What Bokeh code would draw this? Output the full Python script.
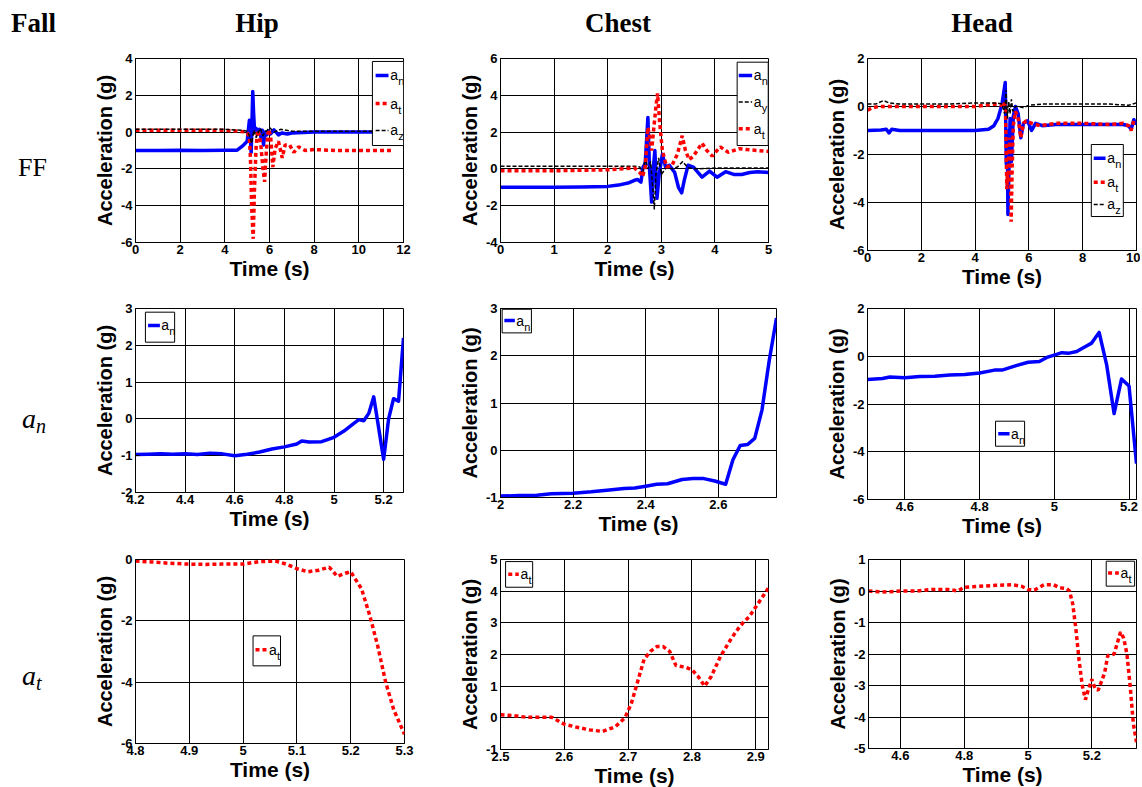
from bokeh.plotting import figure
from bokeh.layouts import row, column
from bokeh.models import Div, FixedTicker, CustomJSTickFormatter
from bokeh.core.properties import value
from bokeh.embed import file_html
from bokeh.resources import INLINE

# ---------------- data ----------------
# Row FF, Hip
hip_ff_an_t = [0, 1, 2, 3, 4, 4.55, 4.8, 5.0, 5.1, 5.18, 5.25, 5.29, 5.33, 5.4, 5.47, 5.55, 5.62, 5.68, 5.73, 5.8, 5.88, 5.95, 6.05, 6.2, 6.4, 6.55, 6.8, 7.0, 8, 9, 10, 11, 11.6]
hip_ff_an_v = [-1.0, -1.0, -0.98, -1.0, -0.98, -0.98, -0.75, -0.5, 0.65, -1.1, 2.2, 1.0, 0.1, 0.2, 0.05, 0.15, -0.3, 0.1, -0.7, 0.0, -0.15, 0.05, -0.1, 0.12, -0.15, -0.05, -0.1, -0.05, 0.0, 0.0, 0.0, 0.0, 0.0]
hip_ff_at_t = [0, 2, 4, 4.6, 5.0, 5.1, 5.15, 5.2, 5.27, 5.33, 5.4, 5.47, 5.55, 5.62, 5.7, 5.78, 5.86, 5.95, 6.05, 6.15, 6.25, 6.4, 6.57, 6.7, 6.9, 7.09, 7.3, 7.6, 8, 9, 10, 11, 11.55]
hip_ff_at_v = [0.1, 0.1, 0.1, 0.05, 0.0, -0.3, -1.5, -4.0, -5.8, -3.0, -0.8, 0.1, -0.2, -0.8, -1.9, -2.7, -1.0, 0.15, -0.2, -1.9, -0.9, -0.5, -1.4, -0.7, -0.7, -1.1, -0.8, -1.0, -0.95, -1.0, -1.0, -1.0, -1.0]
hip_ff_az_t = [0, 2, 4, 4.8, 5.0, 5.1, 5.2, 5.3, 5.4, 5.5, 5.6, 5.7, 5.8, 5.9, 6.0, 6.2, 6.5, 7, 8, 9, 10, 11, 11.6]
hip_ff_az_v = [0.15, 0.15, 0.15, 0.1, 0.05, -0.2, -0.6, 0.1, -0.3, 0.0, 0.2, -0.2, 0.0, 0.1, 0.25, 0.0, 0.15, 0.05, 0.05, 0.05, 0.05, 0.05, 0.05]

# Row FF, Chest
chest_ff_an_t = [0, 0.5, 1, 1.5, 2.0, 2.2, 2.4, 2.5, 2.56, 2.62, 2.66, 2.7, 2.75, 2.78, 2.82, 2.85, 2.88, 2.92, 2.96, 3.02, 3.08, 3.15, 3.25, 3.32, 3.38, 3.43, 3.5, 3.6, 3.76, 3.9, 4.04, 4.2, 4.35, 4.5, 4.65, 4.8, 5.0]
chest_ff_an_v = [-1.0, -1.0, -1.0, -0.98, -0.95, -0.88, -0.75, -0.62, -0.58, -0.72, 0.1, 0.3, 2.8, 0.0, -1.8, 0.0, 1.0, -1.6, -0.3, 0.8, 0.1, 0.2, -0.2, -1.0, -1.3, -0.6, 0.2, 0.1, -0.45, -0.12, -0.45, -0.15, -0.3, -0.3, -0.2, -0.15, -0.2]
chest_ff_ay_t = [0, 1, 2, 2.5, 2.6, 2.65, 2.7, 2.75, 2.8, 2.84, 2.87, 2.9, 2.95, 3.0, 3.1, 3.2, 3.3, 3.4, 3.5, 3.7, 4, 4.5, 5]
chest_ff_ay_v = [0.15, 0.15, 0.15, 0.15, 0.1, -0.3, 0.6, 0.0, 0.4, -1.0, -2.2, -0.3, 0.6, -0.3, 0.1, 0.0, 0.1, 0.4, 0.05, 0.0, 0.05, 0.05, 0.05]
chest_ff_at_t = [0, 1, 2, 2.5, 2.6, 2.65, 2.7, 2.75, 2.79, 2.82, 2.86, 2.9, 2.93, 2.97, 3.02, 3.1, 3.2, 3.3, 3.39, 3.45, 3.52, 3.6, 3.76, 3.85, 3.95, 4.1, 4.25, 4.45, 4.6, 4.8, 5.0]
chest_ff_at_v = [-0.1, -0.1, -0.05, 0.05, -0.2, -0.42, 0.1, 2.25, 1.6, 1.0, 2.2, 3.4, 4.1, 2.5, 1.0, 0.1, 0.2, 0.8, 1.8, 1.0, 0.5, 0.7, 1.4, 1.0, 0.7, 1.2, 0.9, 1.1, 1.05, 1.0, 0.95]

# Row FF, Head
head_ff_an_t = [0, 0.5, 0.7, 0.8, 0.9, 1.2, 2, 3, 4, 4.5, 4.7, 4.85, 5.0, 5.12, 5.16, 5.18, 5.2, 5.22, 5.26, 5.3, 5.35, 5.42, 5.5, 5.6, 5.7, 5.8, 5.95, 6.1, 6.25, 6.5, 7, 8, 9, 9.5, 9.7, 9.8, 9.9, 10]
head_ff_an_v = [-1.0, -0.98, -0.95, -1.1, -0.95, -1.0, -1.0, -1.0, -1.0, -0.95, -0.8, -0.5, 0.1, 1.0, -2.4, -1.0, -1.3, -4.5, -2.5, -0.5, -2.3, -0.4, 0.0, -0.3, -1.3, -0.7, -0.6, -1.0, -0.7, -0.8, -0.75, -0.75, -0.75, -0.75, -0.8, -0.95, -0.55, -0.75]
head_ff_at_t = [0, 0.2, 0.4, 1, 2, 3, 4, 4.7, 5.0, 5.08, 5.13, 5.16, 5.18, 5.2, 5.22, 5.25, 5.29, 5.31, 5.34, 5.38, 5.42, 5.5, 5.6, 5.7, 5.8, 5.9, 6.1, 6.4, 7, 8, 9, 9.5, 9.7, 9.8, 9.9, 10]
head_ff_at_v = [-0.15, -0.05, 0.0, 0.0, 0.0, 0.0, 0.0, 0.1, 0.05, 0.2, 0.0, -2.2, -3.45, -2.8, -3.15, -2.0, -1.3, -2.0, -4.8, -2.5, -0.8, -0.2, -0.5, -1.3, -0.7, -0.6, -0.7, -0.8, -0.7, -0.7, -0.75, -0.7, -0.8, -1.0, -0.6, -0.55]
head_ff_az_t = [0, 0.3, 0.6, 0.8, 1.2, 2, 3, 4, 4.8, 5.0, 5.1, 5.15, 5.2, 5.25, 5.3, 5.35, 5.4, 5.5, 5.6, 5.8, 6.0, 6.5, 7, 8, 9, 9.7, 10]
head_ff_az_v = [0.1, 0.1, 0.25, 0.15, 0.1, 0.1, 0.1, 0.15, 0.15, 0.1, -0.3, 0.7, -0.5, 0.2, -0.3, 0.3, -0.2, 0.0, 0.0, -0.05, 0.05, 0.1, 0.1, 0.1, 0.1, 0.05, 0.15]

# Row a_n (zoomed)
hip_an_t = [4.2, 4.25, 4.3, 4.35, 4.4, 4.45, 4.5, 4.55, 4.6, 4.65, 4.7, 4.75, 4.8, 4.85, 4.87, 4.9, 4.95, 5.0, 5.04, 5.08, 5.1, 5.12, 5.14, 5.16, 5.2, 5.22, 5.24, 5.26, 5.28]
hip_an_v = [-0.97, -0.96, -0.95, -0.96, -0.95, -0.97, -0.93, -0.95, -1.0, -0.96, -0.9, -0.82, -0.76, -0.68, -0.6, -0.63, -0.62, -0.5, -0.33, -0.12, -0.02, -0.05, 0.15, 0.6, -1.1, 0.0, 0.55, 0.48, 2.2]
chest_an_t = [2.0, 2.05, 2.1, 2.14, 2.2, 2.25, 2.3, 2.34, 2.37, 2.4, 2.43, 2.46, 2.5, 2.53, 2.56, 2.59, 2.62, 2.64, 2.66, 2.68, 2.7, 2.72, 2.74, 2.76]
chest_an_v = [-0.97, -0.96, -0.95, -0.92, -0.91, -0.88, -0.84, -0.81, -0.8, -0.76, -0.72, -0.71, -0.62, -0.6, -0.6, -0.65, -0.72, -0.2, 0.1, 0.12, 0.25, 0.85, 1.9, 2.8]
head_an_t = [4.5, 4.54, 4.56, 4.6, 4.64, 4.68, 4.72, 4.76, 4.8, 4.84, 4.86, 4.9, 4.93, 4.96, 4.98, 5.0, 5.02, 5.04, 5.06, 5.08, 5.1, 5.12, 5.14, 5.16, 5.18, 5.2, 5.22]
head_an_v = [-0.97, -0.93, -0.87, -0.9, -0.85, -0.84, -0.79, -0.76, -0.7, -0.58, -0.58, -0.38, -0.25, -0.22, -0.05, 0.05, 0.15, 0.13, 0.2, 0.38, 0.55, 1.0, -0.35, -2.4, -0.95, -1.25, -4.5]

# Row a_t (zoomed)
hip_at_t = [4.8, 4.83, 4.86, 4.9, 4.93, 4.96, 5.0, 5.03, 5.06, 5.08, 5.1, 5.12, 5.14, 5.16, 5.175, 5.19, 5.2, 5.22, 5.235, 5.25, 5.265, 5.28, 5.3]
hip_at_v = [-0.05, -0.08, -0.12, -0.15, -0.16, -0.15, -0.15, -0.07, -0.05, -0.15, -0.3, -0.4, -0.35, -0.25, -0.55, -0.45, -0.4, -0.95, -1.8, -2.8, -4.0, -4.9, -5.7]
chest_at_t = [2.5, 2.52, 2.54, 2.56, 2.58, 2.6, 2.62, 2.64, 2.66, 2.68, 2.695, 2.705, 2.715, 2.725, 2.735, 2.745, 2.755, 2.765, 2.775, 2.79, 2.8, 2.81, 2.82, 2.83, 2.845, 2.86, 2.87, 2.88, 2.89, 2.9, 2.91, 2.92]
chest_at_v = [0.1, 0.07, 0.02, 0.02, 0.02, -0.2, -0.3, -0.38, -0.43, -0.28, 0.0, 0.45, 1.15, 1.85, 2.1, 2.25, 2.25, 2.1, 1.65, 1.6, 1.52, 1.3, 1.0, 1.3, 1.95, 2.45, 2.75, 3.0, 3.2, 3.5, 3.8, 4.1]
head_at_t = [4.5, 4.55, 4.6, 4.65, 4.7, 4.75, 4.78, 4.8, 4.85, 4.9, 4.95, 4.98, 5.0, 5.02, 5.05, 5.08, 5.1, 5.12, 5.13, 5.14, 5.15, 5.16, 5.17, 5.18, 5.19, 5.2, 5.21, 5.22, 5.24, 5.25, 5.27, 5.29, 5.3, 5.31, 5.32, 5.33, 5.34]
head_at_v = [0.0, -0.03, 0.0, 0.0, 0.05, 0.05, 0.0, 0.12, 0.15, 0.18, 0.2, 0.15, 0.05, 0.03, 0.2, 0.2, 0.1, 0.08, 0.0, -0.4, -1.2, -2.2, -3.0, -3.45, -3.1, -2.8, -3.1, -3.15, -2.6, -2.05, -2.0, -1.3, -1.5, -2.0, -3.0, -4.2, -4.8]

# axis ranges and ticks
x_ranges = [[(0, 12), (0, 5), (0, 10)],
            [(4.2, 5.28), (2.0, 2.76), (4.5, 5.22)],
            [(4.8, 5.3), (2.5, 2.92), (4.5, 5.34)]]
y_ranges = [[(-6, 4), (-4, 6), (-6, 2)],
            [(-2, 3), (-1, 3), (-6, 2)],
            [(-6, 0), (-1, 5), (-5, 1)]]
x_ticks = [[[0, 2, 4, 6, 8, 10, 12], [0, 1, 2, 3, 4, 5], [0, 2, 4, 6, 8, 10]],
           [[4.2, 4.4, 4.6, 4.8, 5.0, 5.2], [2.0, 2.2, 2.4, 2.6], [4.6, 4.8, 5.0, 5.2]],
           [[4.8, 4.9, 5.0, 5.1, 5.2, 5.3], [2.5, 2.6, 2.7, 2.8, 2.9], [4.6, 4.8, 5.0, 5.2]]]
y_ticks = [[[-6, -4, -2, 0, 2, 4], [-4, -2, 0, 2, 4, 6], [-6, -4, -2, 0, 2]],
           [[-2, -1, 0, 1, 2, 3], [-1, 0, 1, 2, 3], [-6, -4, -2, 0, 2]],
           [[-6, -4, -2, 0], [-1, 0, 1, 2, 3, 4, 5], [-5, -4, -3, -2, -1, 0, 1]]]

col_titles = ["Hip", "Chest", "Head"]
corner_title = "Fall"
row_titles = ["FF", "a_n", "a_t"]
x_label = "Time (s)"
y_label = "Acceleration (g)"

# ---------------- styles / layout ----------------
BLUE = dict(line_color="#0000ff", line_width=3.5, line_join="round")
RED = dict(line_color="#ff0000", line_width=3.5, line_dash="4 3")
BLACK = dict(line_color="#000000", line_width=1.5, line_dash="4 2")

TICK_FONT = "Liberation Sans Narrow, Liberation Sans, Arial, sans-serif"
LABEL_FONT = "Liberation Sans, Arial, sans-serif"

series = [
    [[(hip_ff_an_t, hip_ff_an_v, BLUE), (hip_ff_at_t, hip_ff_at_v, RED), (hip_ff_az_t, hip_ff_az_v, BLACK)],
     [(chest_ff_an_t, chest_ff_an_v, BLUE), (chest_ff_ay_t, chest_ff_ay_v, BLACK), (chest_ff_at_t, chest_ff_at_v, RED)],
     [(head_ff_an_t, head_ff_an_v, BLUE), (head_ff_at_t, head_ff_at_v, RED), (head_ff_az_t, head_ff_az_v, BLACK)]],
    [[(hip_an_t, hip_an_v, BLUE)], [(chest_an_t, chest_an_v, BLUE)], [(head_an_t, head_an_v, BLUE)]],
    [[(hip_at_t, hip_at_v, RED)], [(chest_at_t, chest_at_v, RED)], [(head_at_t, head_at_v, RED)]],
]

# legend geometry as fractions of the frame
legends = [
    [dict(box=(0.884, 1.0, 0.016, 0.473), line=(0.896, 0.944), tx=0.951,
          items=[(0.092, BLUE, "n"), (0.245, RED, "t"), (0.391, BLACK, "z")]),
     dict(box=(0.883, 0.999, 0.02, 0.473), line=(0.889, 0.939), tx=0.945,
          items=[(0.092, BLUE, "n"), (0.237, BLACK, "y"), (0.382, RED, "t")]),
     dict(box=(0.832, 0.951, 0.448, 0.823), line=(0.841, 0.885), tx=0.891,
          items=[(0.52, BLUE, "n"), (0.645, RED, "t"), (0.76, BLACK, "z")])],
    [dict(box=(0.037, 0.146, 0.02, 0.183), line=(0.047, 0.091), tx=0.096, items=[(0.092, BLUE, "n")]),
     dict(box=(0.006, 0.112, 0.004, 0.129), line=(0.014, 0.052), tx=0.057, items=[(0.064, BLUE, "n")]),
     dict(box=(0.476, 0.584, 0.59, 0.721), line=(0.486, 0.528), tx=0.533, items=[(0.656, BLUE, "n")])],
    [dict(box=(0.437, 0.539, 0.415, 0.578), line=(0.446, 0.49), tx=0.496, items=[(0.491, RED, "t")]),
     dict(box=(0.019, 0.12, 0.011, 0.146), line=(0.029, 0.068), tx=0.075, items=[(0.077, RED, "t")]),
     dict(box=(0.887, 0.993, 0.009, 0.141), line=(0.894, 0.934), tx=0.94, items=[(0.072, RED, "t")])],
]

# frame sizes and borders per panel: (frame_w, frame_h, left, right, top, bottom)
geom = [
    [(268, 184, 57, 40, 10, 56), (268, 184, 57, 42, 10, 56), (269, 192, 57, 4, 10, 48)],
    [(268, 184, 57, 40, 10, 56), (276, 189, 57, 34, 10, 51), (269, 191, 57, 4, 10, 49)],
    [(269, 184, 57, 39, 10, 44), (268, 190, 57, 42, 10, 38), (268, 189, 58, 4, 11, 38)],
]
row_heights = [250, 250, 238]

fmt_code = "return String(Math.round(tick*1000)/1000);"


def make_panel(r, c):
    xr, yr = x_ranges[r][c], y_ranges[r][c]
    fw, fh, bl, br, bt, bb = geom[r][c]
    p = figure(x_range=xr, y_range=yr, frame_width=fw, frame_height=fh,
               min_border_left=bl, min_border_right=br, min_border_top=bt, min_border_bottom=bb,
               output_backend="svg", toolbar_location=None,
               background_fill_color="white", border_fill_color="white")
    p.outline_line_color = "black"
    p.outline_line_width = 1
    p.outline_line_alpha = 1
    for ax, ticks in ((p.xaxis, x_ticks[r][c]), (p.yaxis, y_ticks[r][c])):
        ax.ticker = FixedTicker(ticks=ticks, minor_ticks=[])
        ax.formatter = CustomJSTickFormatter(code=fmt_code)
        ax.major_label_text_font = TICK_FONT
        ax.major_label_text_font_style = "bold"
        ax.major_label_text_font_size = "13px"
        ax.major_label_text_color = "black"
        ax.major_tick_in = 4
        ax.major_tick_out = 0
        ax.minor_tick_line_color = None
        ax.axis_line_color = "black"
        ax.major_tick_line_color = "black"
        ax.axis_label_text_color = "black"
        ax.axis_label_text_font_style = "bold"
    p.xaxis.major_label_standoff = 2
    p.yaxis.major_label_standoff = 3
    p.xaxis.axis_label = x_label
    p.xaxis.axis_label_text_font = TICK_FONT
    p.xaxis.axis_label_text_font_size = "21px"
    p.xaxis.axis_label_standoff = 0
    p.yaxis.axis_label = y_label
    p.yaxis.axis_label_text_font = LABEL_FONT
    p.yaxis.axis_label_text_font_size = "20px"
    p.yaxis.axis_label_standoff = 2
    for g in (p.xgrid, p.ygrid):
        g.grid_line_color = "black"
        g.grid_line_alpha = 1
        g.grid_line_width = 1

    for xs, ys, st in series[r][c]:
        p.line(xs, ys, **st)

    lg = legends[r][c]
    fx = lambda f: xr[0] + f * (xr[1] - xr[0])
    fy = lambda f: yr[1] - f * (yr[1] - yr[0])
    bx0, bx1, by0, by1 = lg["box"]
    p.quad(left=[fx(bx0)], right=[fx(bx1)], top=[fy(by0)], bottom=[fy(by1)],
           fill_color="white", line_color="black", line_width=1)
    for fyi, st, sub in lg["items"]:
        yy = fy(fyi)
        p.line([fx(lg["line"][0]), fx(lg["line"][1])], [yy, yy], **st)
        p.text(x=[fx(lg["tx"])], y=[yy], text=["a"], text_font=value(LABEL_FONT),
               text_font_size="14px", text_baseline="middle", text_align="left", text_color="black")
        p.text(x=[fx(lg["tx"])], y=[yy], text=[sub], text_font=value(LABEL_FONT), x_offset=8, y_offset=6,
               text_font_size="11px", text_baseline="middle", text_align="left", text_color="black")
    return p


serif = "font-family:'Liberation Serif','Times New Roman',serif;color:#000;"
header_html = (
    f'<div style="position:relative;width:1140px;height:48px;{serif}font-weight:bold;font-size:27px;line-height:27px;">'
    f'<span style="position:absolute;left:11px;top:10px;">{corner_title}</span>'
    f'<span style="position:absolute;left:207px;top:10px;width:100px;text-align:center;">{col_titles[0]}</span>'
    f'<span style="position:absolute;left:568px;top:10px;width:100px;text-align:center;">{col_titles[1]}</span>'
    f'<span style="position:absolute;left:932px;top:10px;width:100px;text-align:center;">{col_titles[2]}</span>'
    '</div>'
)
header = Div(text=header_html, width=1140, height=48, margin=(0, 0, 0, 0))


def row_label(i):
    name = row_titles[i]
    h = row_heights[i]
    if "_" in name:
        base, sub = name.split("_")
        top = [0, 107, 114][i]
        inner = (f'<span style="position:absolute;left:22px;top:{top}px;font-size:28px;line-height:28px;font-style:italic;">'
                 f'{base}<span style="font-size:20px;position:relative;top:5px;">{sub}</span></span>')
    else:
        inner = f'<span style="position:absolute;left:18px;top:107px;font-size:26px;line-height:26px;">{name}</span>'
    html = f'<div style="position:relative;width:78px;height:{h}px;{serif}">{inner}</div>'
    return Div(text=html, width=78, height=h, margin=(0, 0, 0, 0))


rows = []
for r in range(3):
    rows.append(row(row_label(r), make_panel(r, 0), make_panel(r, 1), make_panel(r, 2), spacing=0))

layout = column(header, *rows, spacing=0)

open("out.html", "w").write(file_html(layout, INLINE))
